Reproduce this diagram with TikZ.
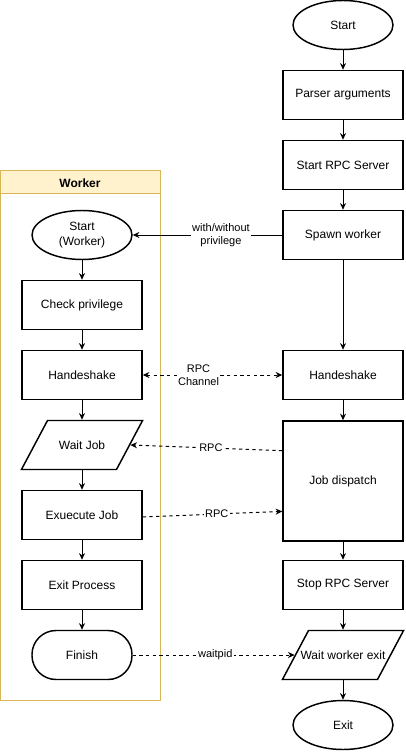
\documentclass[tikz,border=0pt]{standalone}
\usepackage{fontspec}
\setmainfont{Liberation Sans}
\usetikzlibrary{shapes.geometric, arrows.meta, positioning, calc}
\definecolor{poolfill}{HTML}{FFF2CC}
\definecolor{poolline}{HTML}{D6B656}
\begin{document}
\begin{tikzpicture}[x=0.75pt,y=-0.75pt,
  box/.style={draw,line width=1.1pt,minimum width=90pt,minimum height=36.75pt,inner sep=1pt,font=\fontsize{9pt}{11pt}\selectfont,align=center},
  oval/.style={box,ellipse,minimum width=75pt},
  term/.style={box,rounded corners=18pt,minimum width=75pt},
  para/.style={draw,line width=1.1pt,trapezium,trapezium left angle=62,trapezium right angle=118,
    inner xsep=25.875pt,inner ysep=18.375pt,label={[font=\fontsize{9pt}{11pt}\selectfont]center:#1}},
  arr/.style={-{Stealth[length=5pt,width=4.5pt]},line width=0.75pt},
  darr/.style={arr,dashed,dash pattern=on 2.5pt off 2.5pt},
  lbl/.style={fill=white,inner sep=1pt,font=\fontsize{8.25pt}{10pt}\selectfont,align=center}]
\useasboundingbox (0,0) rectangle (405,752);
% worker pool
\draw[poolline,line width=0.75pt] (0,171) rectangle (160,700);
\draw[poolline,fill=poolfill,line width=0.75pt] (0,171) rectangle (160,194);
\node[font=\fontsize{9pt}{11pt}\selectfont\bfseries] (pooltitle) at (80,183) {Worker};
% main process
\node[oval] (startR) at (343,25) {Start};
\node[box] (parse) at (343,95) {Parser arguments};
\node[box] (rpcsrv) at (343,165) {Start RPC Server};
\node[box] (spawn) at (343,235) {Spawn worker};
\node[box] (hsR) at (343,375) {Handeshake};
\node[box,minimum height=90pt] (dispatch) at (343,481) {Job dispatch};
\node[box] (stoprpc) at (343,585) {Stop RPC Server};
\node[para=Wait worker exit] (waitexit) at (343,655) {};
\node[oval] (exitN) at (343,725) {Exit};
% worker
\node[oval] (wstart) at (82,235) {Start\\(Worker)};
\node[box] (checkpriv) at (82,305) {Check privilege};
\node[box] (hsL) at (82,375) {Handeshake};
\node[para=Wait Job] (waitjob) at (82,445) {};
\node[box] (execjob) at (82,515) {Exuecute Job};
\node[box] (exitproc) at (82,585) {Exit Process};
\node[term] (finish) at (82,655) {Finish};
% flow
\draw[arr] (startR) -- (parse);
\draw[arr] (parse) -- (rpcsrv);
\draw[arr] (rpcsrv) -- (spawn);
\draw[arr] (spawn) -- (hsR);
\draw[arr] (hsR) -- (dispatch);
\draw[arr] (dispatch) -- (stoprpc);
\draw[arr] (stoprpc) -- (waitexit);
\draw[arr] (waitexit) -- (exitN);
\draw[arr] (wstart) -- (checkpriv);
\draw[arr] (checkpriv) -- (hsL);
\draw[arr] (hsL) -- (waitjob);
\draw[arr] (waitjob) -- (execjob);
\draw[arr] (execjob) -- (exitproc);
\draw[arr] (exitproc) -- (finish);
% links between the two
\draw[arr] (spawn) -- node[lbl,pos=0.41] {with/without\\privilege} (wstart);
\draw[darr,{Stealth[length=5pt,width=4.5pt]}-{Stealth[length=5pt,width=4.5pt]}] (hsL) -- node[lbl,pos=0.4] {RPC\\Channel} (hsR);
\coordinate (dspin) at ($(dispatch.north west)!0.25!(dispatch.south west)$);
\coordinate (dspout) at ($(dispatch.north west)!0.75!(dispatch.south west)$);
\draw[darr] (dspin) -- node[lbl,pos=0.47] {RPC} (waitjob.east);
\draw[darr] ([yshift=-1.5pt]execjob.east) -- node[lbl,pos=0.53] {RPC} (dspout);
\draw[darr] (finish) -- node[lbl,pos=0.51] {waitpid} (waitexit.west);
\end{tikzpicture}
\end{document}
